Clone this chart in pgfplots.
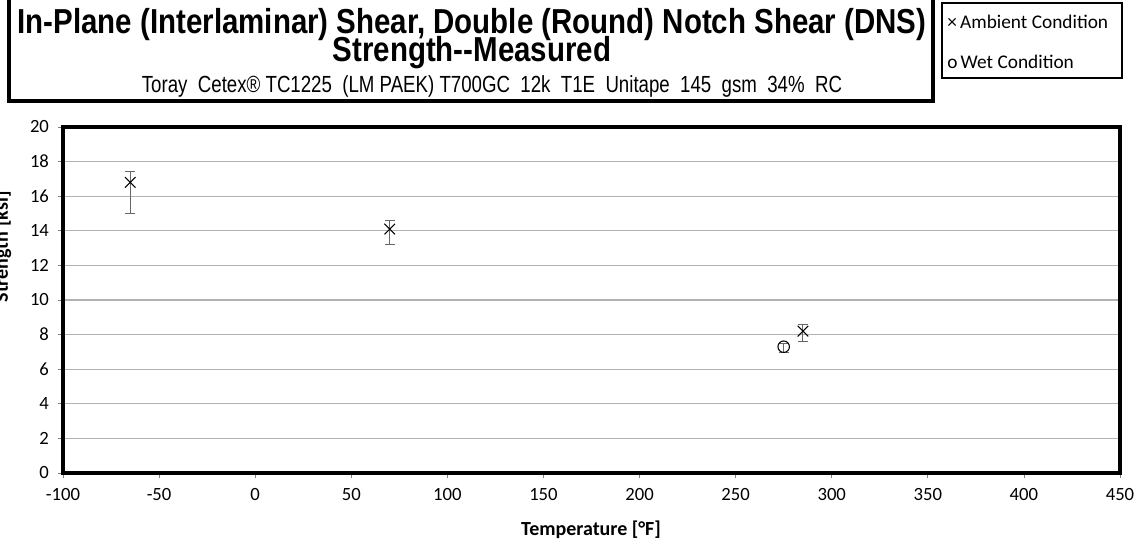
\documentclass[border=0pt]{standalone}
\usepackage{pgfplots}
\pgfplotsset{compat=1.18}
\usepackage{fontspec}
\setmainfont{Carlito}
\newfontfamily\titlefont[FakeStretch=0.85]{Liberation Sans}
\newfontfamily\subfont[FakeStretch=0.8]{Liberation Sans}
\begin{document}
\begin{tikzpicture}[x=0.75pt,y=0.75pt]
\useasboundingbox (0,0) rectangle (1139,547);
\begin{axis}[
  at={(47.25pt,55.5pt)}, anchor=south west,
  scale only axis, width=792.75pt, height=259.5pt,
  xmin=-100, xmax=450, ymin=0, ymax=20,
  xtick distance=50, ytick distance=2,
  ymajorgrids, grid style={gray!60, line width=0.9pt},
  axis line style={black, line width=2.4pt},
  tick style={gray, line width=0.6pt},
  tick align=outside, major tick length=4pt,
  xtick pos=bottom, ytick pos=left,
  /pgf/number format/assume math mode=true,
  tick label style={font=\fontsize{14}{16}\selectfont},
  xticklabel style={yshift=-4pt},
  yticklabel style={xshift=-3pt},
  clip=false,
]
\addplot[only marks, mark=x, mark size=5.6pt, black, line width=0.8pt,
  error bars/.cd, y dir=both, y explicit,
  error bar style={gray!80!black, line width=0.8pt},
  error mark options={rotate=90, mark size=3.8pt, gray!80!black, line width=0.8pt}]
  coordinates {
  (-65,16.8) +=(0,0.65) -=(0,1.8)
  (70,14.1) +=(0,0.5) -=(0,0.9)
  (285,8.2) +=(0,0.4) -=(0,0.6)
  };
\addplot[only marks, mark=o, mark size=4.3pt, black, line width=0.8pt,
  error bars/.cd, y dir=both, y explicit,
  error bar style={gray!80!black, line width=0.8pt},
  error mark options={rotate=90, mark size=3.8pt, gray!80!black, line width=0.8pt}]
  coordinates {
  (275,7.3) +=(0,0.2) -=(0,0.32)
  };
\end{axis}
% axis labels
\node[font=\fontsize{15}{17}\selectfont\bfseries] at (591,17) {Temperature [°F]};
\node[font=\fontsize{15}{17}\selectfont\bfseries, rotate=90, anchor=base, inner sep=0pt] at (8,300) {Strength [ksi]};
% title box
\draw[line width=3pt] (9,446) rectangle (933,552);
\node[font=\titlefont\bfseries\fontsize{26}{30}\selectfont, anchor=base, inner sep=0pt] at (472,513) {In-Plane (Interlaminar) Shear, Double (Round) Notch Shear (DNS)};
\node[font=\titlefont\bfseries\fontsize{26}{30}\selectfont, anchor=base, inner sep=0pt] at (472,485) {Strength--Measured};
\node[font=\subfont\fontsize{17.5}{20}\selectfont, anchor=base, inner sep=0pt] at (492,454) {Toray\ \ Cetex® TC1225\ \ (LM PAEK) T700GC\ \ 12k\ \ T1E\ \ Unitape\ \ 145\ \ gsm\ \ 34\%\ \ RC};
% legend
\draw[line width=0.9pt] (942,469) rectangle (1122,544);
\node[anchor=west, font=\fontsize{14.5}{16}\selectfont, inner sep=0pt] at (947,525) {×\,Ambient Condition};
\node[anchor=west, font=\fontsize{14.5}{16}\selectfont, inner sep=0pt] at (947,485) {o\,Wet Condition};
\end{tikzpicture}
\end{document}
